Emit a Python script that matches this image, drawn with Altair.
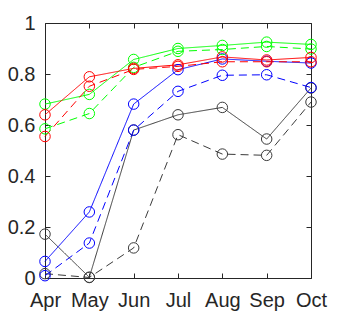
import altair as alt
import pandas as pd

months = ["Apr", "May", "Jun", "Jul", "Aug", "Sep", "Oct"]

green_solid = [0.682, 0.720, 0.857, 0.900, 0.912, 0.925, 0.916]
green_dashed = [0.585, 0.645, 0.826, 0.889, 0.896, 0.908, 0.898]
red_solid = [0.640, 0.789, 0.822, 0.836, 0.867, 0.855, 0.865]
red_dashed = [0.555, 0.752, 0.818, 0.830, 0.848, 0.848, 0.848]
blue_solid = [0.065, 0.259, 0.682, 0.817, 0.859, 0.850, 0.843]
blue_dashed = [0.009, 0.137, 0.580, 0.732, 0.795, 0.797, 0.747]
black_solid = [0.172, 0.003, 0.580, 0.640, 0.669, 0.545, 0.745]
black_dashed = [0.017, 0.002, 0.118, 0.562, 0.486, 0.481, 0.690]

series = [
    ("S4", "solid", black_solid),
    ("S4", "dashed", black_dashed),
    ("S3", "solid", blue_solid),
    ("S3", "dashed", blue_dashed),
    ("S1", "solid", green_solid),
    ("S1", "dashed", green_dashed),
    ("S2", "solid", red_solid),
    ("S2", "dashed", red_dashed),
]

rows = []
for order, (grp, style, vals) in enumerate(series):
    for m, v in zip(months, vals):
        rows.append({"month": m, "value": v, "group": grp, "style": style,
                     "key": f"{grp}-{style}", "order": order})
df = pd.DataFrame(rows)

axis_color = "#262626"
color_scale = alt.Scale(domain=["S1", "S2", "S3", "S4"],
                        range=["#00ff00", "#ff0000", "#0000ff", "#3a3a3a"])
dash_scale = alt.Scale(domain=["solid", "dashed"], range=[[1, 0], [8, 5]])

inward = alt.ExprRef(expr="-5")

x_bottom = alt.Axis(orient="bottom", title=None, domain=False, grid=False,
                    tickSize=inward, tickColor=axis_color, labelPadding=33,
                    labelBaseline="alphabetic", labelAngle=0)
y_left = alt.Axis(orient="left", title=None, domain=False, grid=False,
                  tickSize=inward, tickColor=axis_color, labelPadding=15,
                  values=[0, 0.2, 0.4, 0.6, 0.8, 1], format="~g")
x_top = alt.Axis(orient="top", title=None, domain=False, grid=False,
                 labels=False, tickSize=inward, tickColor=axis_color)
y_right = alt.Axis(orient="right", title=None, domain=False, grid=False,
                   labels=False, tickSize=inward, tickColor=axis_color,
                   values=[0, 0.2, 0.4, 0.6, 0.8, 1])

xs = alt.Scale(type="point", domain=months, padding=0)
ys = alt.Scale(domain=[0, 1], nice=False)

base = alt.Chart(df)

lines = base.mark_line(strokeWidth=1).encode(
    x=alt.X("month:N", scale=xs, sort=months, axis=x_bottom),
    y=alt.Y("value:Q", scale=ys, axis=y_left),
    color=alt.Color("group:N", scale=color_scale, legend=None),
    strokeDash=alt.StrokeDash("style:N", scale=dash_scale, legend=None),
    detail="key:N",
)

points = base.mark_point(shape="circle", size=110, filled=False,
                         strokeWidth=1, opacity=1).encode(
    x=alt.X("month:N", scale=xs, sort=months, axis=x_top),
    y=alt.Y("value:Q", scale=ys, axis=y_right),
    color=alt.Color("group:N", scale=color_scale, legend=None),
)

chart = alt.layer(lines, points).resolve_axis(
    x="independent", y="independent"
).properties(
    width=266, height=255,
    autosize=alt.AutoSizeParams(type="none"),
    padding={"left": 37, "top": 15, "right": 23, "bottom": 34},
).configure_view(
    stroke=axis_color, strokeWidth=1
).configure_axis(
    labelFont="Liberation Sans", labelFontSize=20, labelColor=axis_color,
    tickWidth=1,
)

chart.save("out.html", embed_options={"renderer": "svg", "actions": False})
